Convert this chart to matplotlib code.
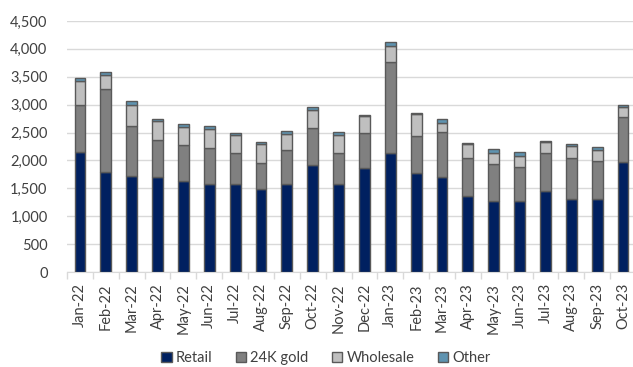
import matplotlib
matplotlib.use("Agg")
import matplotlib.pyplot as plt
import numpy as np

months = ['Jan-22', 'Feb-22', 'Mar-22', 'Apr-22', 'May-22', 'Jun-22', 'Jul-22',
          'Aug-22', 'Sep-22', 'Oct-22', 'Nov-22', 'Dec-22', 'Jan-23', 'Feb-23',
          'Mar-23', 'Apr-23', 'May-23', 'Jun-23', 'Jul-23', 'Aug-23', 'Sep-23',
          'Oct-23']
retail = [2150, 1800, 1720, 1700, 1640, 1580, 1580, 1480, 1580, 1910, 1580,
          1860, 2130, 1780, 1700, 1370, 1270, 1270, 1450, 1300, 1300, 1980]
gold24k = [840, 1480, 900, 670, 630, 640, 550, 470, 600, 670, 560,
           640, 1640, 650, 810, 670, 660, 620, 680, 740, 690, 790]
wholesale = [440, 260, 370, 340, 330, 340, 330, 340, 300, 320, 320,
             290, 290, 400, 160, 260, 200, 190, 200, 220, 200, 190]
other = [40, 40, 80, 40, 60, 50, 40, 40, 40, 60, 50,
         30, 70, 20, 80, 20, 80, 70, 20, 30, 50, 30]

series = [('Retail', retail, '#002060'),
          ('24K gold', gold24k, '#808080'),
          ('Wholesale', wholesale, '#BFBFBF'),
          ('Other', other, '#5E93B0')]

plt.rcParams['font.family'] = ['Lato', 'DejaVu Sans']

fig = plt.figure(figsize=(6.33, 3.67), dpi=100)
ax = fig.add_axes([67 / 633, 1 - 272 / 367, 569 / 633, 251 / 367])

x = np.arange(len(months))
bottom = np.zeros(len(months))
for name, vals, col in series:
    ax.bar(x, vals, 0.42, bottom=bottom, color=col, edgecolor='#595959',
           linewidth=1, label=name, zorder=3)
    bottom += np.array(vals)

ax.set_ylim(0, 4500)
ax.set_yticks(np.arange(0, 4501, 500))
ax.set_yticklabels([f'{v:,}' for v in range(0, 4501, 500)], fontsize=10.5,
                   color='#404040')
ax.yaxis.grid(True, color='#D9D9D9', linewidth=1, zorder=0)
ax.tick_params(axis='y', length=0, pad=14)

ax.set_xlim(-0.5, len(months) - 0.5)
ax.set_xticks(x)
ax.set_xticklabels(months, rotation=90, fontsize=10.5, color='#404040')
ax.tick_params(axis='x', which='major', length=0, pad=8)
ax.set_xticks(np.arange(-0.5, len(months), 1), minor=True)
ax.tick_params(axis='x', which='minor', length=5, color='#D9D9D9', width=1)

for s in ['top', 'right', 'left']:
    ax.spines[s].set_visible(False)
ax.spines['bottom'].set_color('#D9D9D9')

fig.legend(loc='center', bbox_to_anchor=(0.515, 0.025), ncol=4, frameon=False,
           fontsize=10.5, handlelength=0.7, handleheight=0.7, handletextpad=0.3,
           columnspacing=1.6, labelcolor='#404040')

fig.savefig('out.png', dpi=100)
